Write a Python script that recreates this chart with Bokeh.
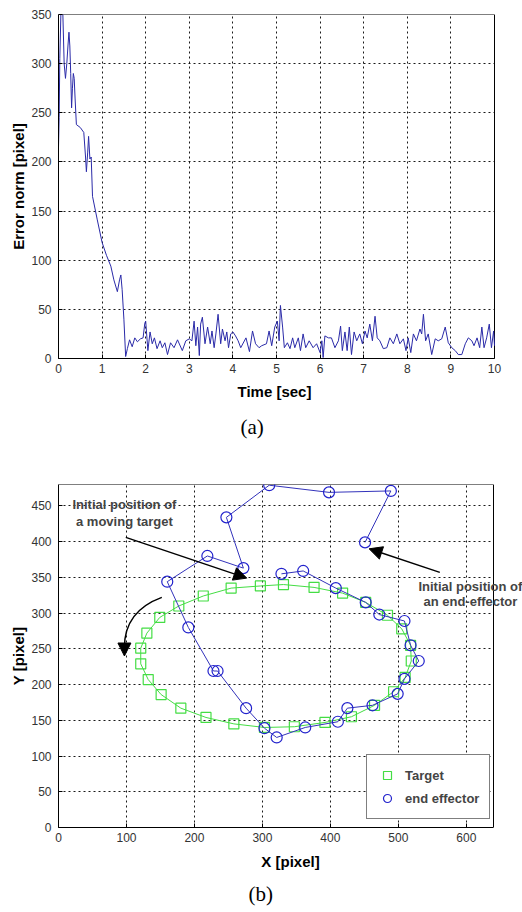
from bokeh.plotting import figure
from bokeh.layouts import column
from bokeh.models import (Range1d, FixedTicker, Label, Arrow, NormalHead, Legend, LegendItem,
                          Title)
from bokeh.embed import file_html
from bokeh.resources import INLINE

# ---- (a) error norm vs time ----
time_sec = [0.0, 0.015, 0.03, 0.06, 0.10, 0.13, 0.16, 0.19, 0.22, 0.24, 0.26, 0.28, 0.30, 0.32, 0.34,
            0.36, 0.38, 0.41, 0.50, 0.58, 0.62, 0.64, 0.67, 0.69, 0.72, 0.75, 0.78, 0.89, 1.00, 1.10,
            1.20, 1.27, 1.35, 1.40, 1.43, 1.46, 1.50, 1.54, 1.58, 1.63, 1.69, 1.75, 1.81, 1.88, 1.94,
            1.98,
            2.00, 2.05, 2.10, 2.15, 2.20, 2.26, 2.33, 2.38, 2.44, 2.50, 2.57, 2.65, 2.73, 2.84, 2.92,
            3.00, 3.06, 3.11, 3.15, 3.19, 3.23, 3.26, 3.30, 3.36, 3.42, 3.48, 3.52, 3.57, 3.61, 3.66,
            3.72, 3.76, 3.82, 3.86, 3.90, 3.95, 4.00, 4.06, 4.12, 4.18, 4.30, 4.38, 4.45, 4.52, 4.60,
            4.66, 4.77, 4.83, 4.89, 4.96, 5.02, 5.06, 5.09, 5.14, 5.18, 5.25, 5.31, 5.37, 5.42, 5.50,
            5.55, 5.61, 5.67, 5.75, 5.84, 5.92, 6.00, 6.04, 6.07, 6.11, 6.19, 6.26, 6.34, 6.42, 6.47,
            6.51, 6.57, 6.62, 6.67, 6.72, 6.78, 6.84, 6.91, 6.97, 7.03, 7.08, 7.14, 7.20, 7.26, 7.31,
            7.37, 7.45, 7.53, 7.60, 7.68, 7.76, 7.83, 7.91, 7.97, 8.02, 8.08, 8.14, 8.21, 8.29, 8.33,
            8.37, 8.42, 8.48, 8.56, 8.64, 8.71, 8.79, 8.87, 8.94, 9.02, 9.10, 9.17, 9.25, 9.33, 9.40,
            9.48, 9.53, 9.60, 9.66, 9.71, 9.76, 9.82, 9.88, 9.93, 9.98, 10.0]
error_norm = [215, 245, 305, 360, 350, 300, 285, 300, 320, 332, 318, 290, 255, 275, 290,
              285, 265, 238, 235, 230, 205, 190, 210, 226, 203, 205, 165, 141, 118, 105,
              94, 80, 68, 80, 85, 70, 40, 2, 10, 19, 12, 21, 17, 20, 21,
              36,
              38, 8, 27, 15, 21, 10, 18, 11, 16, 4, 16, 11, 19, 8, 18,
              20, 18, 38, 13, 32, 3, 35, 42, 15, 32, 15, 28, 11, 25, 45,
              15, 30, 18, 27, 11, 25, 27, 23, 18, 11, 21, 7, 28, 15, 11,
              13, 15, 28, 13, 32, 38, 18, 54, 32, 11, 16, 10, 21, 11, 21,
              8, 25, 11, 18, 11, 15, 6, 18, 1, 23, 21, 21, 11, 18, 33,
              8, 27, 8, 32, 4, 27, 18, 25, 15, 28, 21, 35, 18, 43, 21,
              18, 10, 11, 21, 15, 25, 15, 20, 8, 21, 6, 25, 18, 30, 25,
              45, 18, 25, 4, 20, 18, 20, 32, 16, 11, 8, 4, 4, 15, 21,
              18, 13, 21, 11, 32, 11, 21, 35, 11, 28, 13]

time_ticks = [0, 1, 2, 3, 4, 5, 6, 7, 8, 9, 10]
err_ticks = [0, 50, 100, 150, 200, 250, 300, 350]
T_MAX = 10
E_MAX = 350

# ---- (b) trajectories ----
target_x = [297, 254, 213, 177, 149, 130, 121, 121, 132, 151, 180, 217, 258, 303, 347, 392, 431,
            465, 493, 510, 519, 518, 505, 484, 452, 418, 376, 331]
target_y = [338, 335, 324, 310, 294, 272, 251, 229, 207, 186, 167, 154, 145, 140, 141, 147, 155,
            171, 190, 210, 233, 255, 278, 297, 315, 328, 336, 340]
effector_x = [451, 489, 398, 310, 247, 272, 219, 160, 191, 228, 234, 276, 303, 321, 363, 411, 425,
              462, 499, 509, 530, 518, 509, 472, 452, 408, 360, 328]
effector_y = [399, 471, 469, 479, 434, 363, 380, 344, 280, 219, 219, 167, 139, 126, 140, 148, 167,
              171, 187, 208, 233, 255, 289, 298, 315, 335, 359, 355]
px_xticks = [0, 100, 200, 300, 400, 500, 600]
px_yticks = [0, 50, 100, 150, 200, 250, 300, 350, 400, 450]
X_MAX = 640
Y_MAX = 480

FONT = "Liberation Sans"
SERIF = "Liberation Serif"
W, H = 522, 456
LEFT = 58
FRAME_W = W - LEFT


def style(p, xticks, yticks, xlabel, ylabel, xmax, ymax):
    # the frame runs to the canvas' right edge (so text there is not clipped);
    # the visible axes box ends at xmax, drawn by hand.
    p.outline_line_color = None
    p.background_fill_color = "white"
    p.border_fill_color = "white"
    for ax in (p.xaxis[0], p.yaxis[0]):
        ax.axis_line_color = "black"
        ax.major_tick_in = 4
        ax.major_tick_out = 0
        ax.minor_tick_line_color = None
        ax.major_tick_line_color = "black"
        ax.major_label_text_font = FONT
        ax.major_label_text_font_size = "12px"
        ax.major_label_text_color = "#333333"
        ax.axis_label_text_font = FONT
        ax.axis_label_text_font_size = "15px"
        ax.axis_label_text_font_style = "bold"
        ax.axis_label_text_color = "black"
    p.xaxis[0].bounds = (0, xmax)
    p.xaxis[0].ticker = FixedTicker(ticks=xticks)
    p.yaxis[0].ticker = FixedTicker(ticks=yticks)
    if xlabel:
        p.xaxis[0].axis_label = xlabel
    p.yaxis[0].axis_label = ylabel
    p.xaxis[0].major_label_standoff = 5
    p.xaxis[0].axis_label_standoff = 8
    p.yaxis[0].major_label_standoff = 7
    p.yaxis[0].axis_label_standoff = 1
    p.xgrid[0].ticker = FixedTicker(ticks=xticks)
    p.ygrid[0].ticker = FixedTicker(ticks=yticks)
    for g in (p.xgrid[0], p.ygrid[0]):
        g.grid_line_color = "black"
        g.grid_line_dash = "2 3"
        g.grid_line_width = 1
        g.grid_line_alpha = 0.9
    p.quad(left=[xmax], right=[xmax * 2], bottom=[-ymax], top=[ymax * 2],
           fill_color="white", line_color=None)
    p.line([0, xmax, xmax], [ymax, ymax, 0], line_color="black", line_width=1)


# ---------- figure (a) ----------
pa = figure(width=W, height=H, output_backend="svg", toolbar_location=None,
            x_range=Range1d(0, T_MAX * FRAME_W / 436), y_range=Range1d(0, E_MAX),
            min_border_left=LEFT, min_border_right=0, min_border_top=14, min_border_bottom=98)
style(pa, time_ticks, err_ticks, None, "Error norm [pixel]", T_MAX, E_MAX)
pa.line(time_sec, error_norm, line_color="#2a2aa8", line_width=1)
# x-axis label centred under the visible box (not under the widened frame)
pa.add_layout(Title(text="Time [sec]", align="left", offset=179, standoff=10,
                    text_font=FONT, text_font_size="15px", text_font_style="bold",
                    text_color="black"), "below")
pa.add_layout(Title(text="(a)", align="left", offset=182, standoff=17,
                    text_font=SERIF, text_font_size="21px", text_font_style="normal",
                    text_color="black"), "below")

# ---------- figure (b) ----------
pb = figure(width=W, height=H, output_backend="svg", toolbar_location=None,
            x_range=Range1d(0, X_MAX * FRAME_W / 435), y_range=Range1d(0, Y_MAX),
            min_border_left=LEFT, min_border_right=0, min_border_top=28, min_border_bottom=85)
style(pb, px_xticks, px_yticks, "X [pixel]", "Y [pixel]", X_MAX, Y_MAX)

pb.line(target_x + target_x[:1], target_y + target_y[:1], line_color="#44dd44", line_width=1)
rt = pb.scatter(target_x, target_y, marker="square", size=10, fill_color=None,
                line_color="#44dd44", line_width=1.2)
pb.line(effector_x, effector_y, line_color="#3333bb", line_width=1)
re = pb.scatter(effector_x, effector_y, marker="circle", size=11, fill_color=None,
                line_color="#2222cc", line_width=1.2)

legend = Legend(items=[LegendItem(label="Target", renderers=[rt]),
                       LegendItem(label="end effector", renderers=[re])],
                location=(308, 8), border_line_color="black", border_line_width=1,
                background_fill_alpha=1, label_text_font=FONT, label_text_font_size="13px",
                label_text_font_style="bold", glyph_width=20, label_standoff=8)
pb.add_layout(legend)

for txt, yy in (("Initial position of", 452), ("a moving target", 428)):
    pb.add_layout(Label(x=97, y=yy, text=txt, text_align="center", text_baseline="middle",
                        text_font=FONT, text_font_size="13px", text_font_style="bold"))
for txt, yy in (("Initial position of", 337), ("an end-effector", 316)):
    pb.add_layout(Label(x=606, y=yy, text=txt, text_align="center", text_baseline="middle",
                        text_font=FONT, text_font_size="13px", text_font_style="bold"))

pb.add_layout(Arrow(end=NormalHead(size=13, fill_color="black", line_color="black"),
                    x_start=99, y_start=406, x_end=277, y_end=349,
                    line_color="black", line_width=1.5))
pb.add_layout(Arrow(end=NormalHead(size=13, fill_color="black", line_color="black"),
                    x_start=561, y_start=357, x_end=457, y_end=390,
                    line_color="black", line_width=1.5))
pb.bezier(x0=[152], y0=[322], x1=[97], y1=[252], cx0=[112], cy0=[308], cx1=[97], cy1=[282],
          line_color="black", line_width=1.5)
pb.add_layout(Arrow(end=NormalHead(size=13, fill_color="black", line_color="black"),
                    x_start=97, y_start=254, x_end=97, y_end=240,
                    line_color="black", line_width=1.5))
pb.add_layout(Title(text="(b)", align="left", offset=190, standoff=14,
                    text_font=SERIF, text_font_size="21px", text_font_style="normal",
                    text_color="black"), "below")

layout = column(pa, pb, spacing=0)
open("out.html", "w").write(file_html(layout, INLINE))
